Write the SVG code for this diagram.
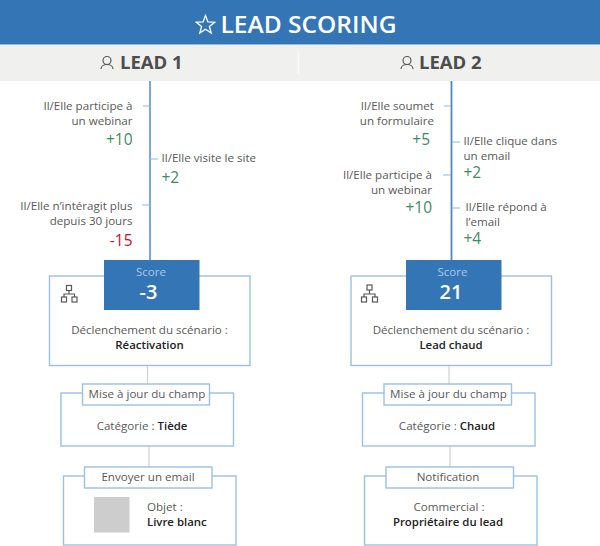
<svg xmlns="http://www.w3.org/2000/svg" width="600" height="546" viewBox="0 0 600 546">
<defs>
<style>
text{font-family:"Open Sans","Noto Sans","Liberation Sans",sans-serif;font-size:11.6px;fill:#595959}
.r{text-anchor:end}.m{text-anchor:middle}
.b{font-weight:600;font-size:11.4px;fill:#222}
.pt{font-size:15.5px;font-weight:500}
.g{fill:#3f8a5f}.red{fill:#c8102e}
.box{fill:#fff;stroke:#9cc0e2;stroke-width:1.4}
.tick{stroke:#8fb5df;stroke-width:1}
.spine{stroke:#6d9fd8;stroke-width:1.8}
.spine2{stroke:#4f86c6;stroke-width:1.8}
.link{stroke:#d6d6d6;stroke-width:1.4}
.head{font-size:18.500px;font-weight:700;fill:#4d4d4d}
.ico{fill:none;stroke:#595959;stroke-width:1.2}
.score{fill:#a8c8e8}
.val{font-size:20px;font-weight:600;fill:#fff}
</style>
</defs>
<rect width="600" height="546" fill="#fff"/>
<g id="title">
<rect width="600" height="44.500" fill="#3476b5"/>
<polygon points="205.500,15.500 207.900,21.900 214.700,22.200 209.400,26.500 211.200,33.100 205.500,29.300 199.800,33.100 201.600,26.500 196.300,22.200 203.100,21.900" fill="none" stroke="#fff" stroke-width="1.300"/>
<text x="308.500" y="32.500" class="m" style="font-size:23px;font-weight:600;fill:#fff" textLength="176" lengthAdjust="spacingAndGlyphs">LEAD SCORING</text>
</g>
<g id="band">
<rect y="45" width="600" height="36" fill="#f0f0ee"/>
<line x1="298.500" y1="51" x2="298.500" y2="74" stroke="#fafafa" stroke-width="1.500"/>
</g>
<g id="lead1-head">
<circle cx="107" cy="60.500" r="4" class="ico"/>
<path d="M101 69c0-6 12-6 12 0" class="ico"/>
<text x="120" y="68.500" class="head">LEAD 1</text>
</g>
<g id="lead2-head">
<circle cx="407" cy="60.500" r="4" class="ico"/>
<path d="M401 69c0-6 12-6 12 0" class="ico"/>
<text x="419" y="68.500" class="head">LEAD 2</text>
</g>
<g id="connectors">
<line x1="150" y1="81" x2="150" y2="260" class="spine"/>
<line x1="451.500" y1="81" x2="451.500" y2="260" class="spine2"/>
<line x1="143" y1="106" x2="150" y2="106" class="tick"/>
<line x1="150" y1="159" x2="158" y2="159" class="tick"/>
<line x1="142" y1="205" x2="150" y2="205" class="tick"/>
<line x1="444" y1="106" x2="451" y2="106" class="tick"/>
<line x1="452" y1="142" x2="460" y2="142" class="tick"/>
<line x1="443" y1="175" x2="451" y2="175" class="tick"/>
<line x1="452" y1="208" x2="460" y2="208" class="tick"/>
<line x1="147.500" y1="366" x2="147.500" y2="384" class="link"/>
<line x1="149" y1="446" x2="149" y2="467" class="link"/>
<line x1="449" y1="366" x2="449" y2="384" class="link"/>
<line x1="450" y1="446" x2="450" y2="467" class="link"/>
</g>
<g id="lead1-events">
<text x="132.500" y="110" class="r">Il/Elle participe à</text>
<text x="132.500" y="125" class="r">un webinar</text>
<text x="132.500" y="145" class="r pt g">+10</text>
<text x="161.500" y="162">Il/Elle visite le site</text>
<text x="161.500" y="183" class="pt g">+2</text>
<text x="132.500" y="210" class="r">Il/Elle n’intéragit plus</text>
<text x="132.500" y="225" class="r">depuis 30 jours</text>
<text x="132.500" y="246" class="r pt red">-15</text>
</g>
<g id="lead2-events">
<text x="434" y="110" class="r">Il/Elle soumet</text>
<text x="434" y="125" class="r">un formulaire</text>
<text x="430" y="145" class="r pt g">+5</text>
<text x="463.500" y="144.500">Il/Elle clique dans</text>
<text x="463.500" y="159.500">un email</text>
<text x="463.500" y="177.500" class="pt g">+2</text>
<text x="432" y="179" class="r">Il/Elle participe à</text>
<text x="432" y="194" class="r">un webinar</text>
<text x="432" y="213" class="r pt g">+10</text>
<text x="465.500" y="211">Il/Elle répond à</text>
<text x="465.500" y="226">l’email</text>
<text x="463.500" y="244" class="pt g">+4</text>
</g>
<g id="lead1-scenario">
<rect x="49.500" y="276" width="200.500" height="89.500" class="box"/>
<g class="ico"><rect x="66.500" y="285.500" width="5" height="5"/><rect x="61.500" y="297" width="5" height="5"/><rect x="72" y="297" width="5" height="5"/><path d="M69 290.500v3.500M64 297v-3h10.500v3"/></g>
<text x="149.500" y="334" class="m">Déclenchement du scénario :</text>
<text x="149.500" y="349" class="m b">Réactivation</text>
</g>
<g id="lead1-score">
<rect x="104" y="260" width="95.500" height="50" fill="#3476b5"/>
<text x="151" y="275.500" class="m score">Score</text>
<text x="148.500" y="299" class="m val">-3</text>
</g>
<g id="lead2-scenario">
<rect x="351" y="276" width="200.500" height="89.500" class="box"/>
<g class="ico"><rect x="367" y="285" width="5" height="5"/><rect x="361.500" y="297" width="5" height="5"/><rect x="372.500" y="297" width="5" height="5"/><path d="M369.500 290v4M364 297v-3h11v3"/></g>
<text x="451" y="334" class="m">Déclenchement du scénario :</text>
<text x="451" y="349" class="m b">Lead chaud</text>
</g>
<g id="lead2-score">
<rect x="406" y="260" width="95.500" height="50" fill="#3476b5"/>
<text x="452.500" y="275.500" class="m score">Score</text>
<text x="451" y="299" class="m val">21</text>
</g>
<g id="lead1-update">
<rect x="61" y="393" width="172.500" height="53" class="box"/>
<rect x="82.500" y="384" width="127" height="21" class="box"/>
<text x="147" y="398" class="m">Mise à jour du champ</text>
<text x="142" y="430" class="m">Catégorie : <tspan class="b">Tiède</tspan></text>
</g>
<g id="lead1-email">
<rect x="63.500" y="476" width="172.500" height="69" class="box"/>
<rect x="84.500" y="467" width="127.500" height="21" class="box"/>
<text x="148" y="481" class="m">Envoyer un email</text>
<rect x="94" y="497" width="35.500" height="35.500" fill="#cdcdcd"/>
<text x="147" y="511">Objet :</text>
<text x="147" y="526" class="b">Livre blanc</text>
</g>
<g id="lead2-update">
<rect x="362.500" y="393" width="172.500" height="53" class="box"/>
<rect x="384" y="384" width="127.500" height="21" class="box"/>
<text x="448.500" y="398" class="m">Mise à jour du champ</text>
<text x="447" y="430" class="m">Catégorie : <tspan class="b">Chaud</tspan></text>
</g>
<g id="lead2-notification">
<rect x="364.500" y="476" width="172.500" height="69" class="box"/>
<rect x="386" y="467" width="127.500" height="21" class="box"/>
<text x="448" y="481" class="m">Notification</text>
<text x="449" y="511" class="m">Commercial :</text>
<text x="448" y="526" class="m b">Propriétaire du lead</text>
</g>
</svg>
